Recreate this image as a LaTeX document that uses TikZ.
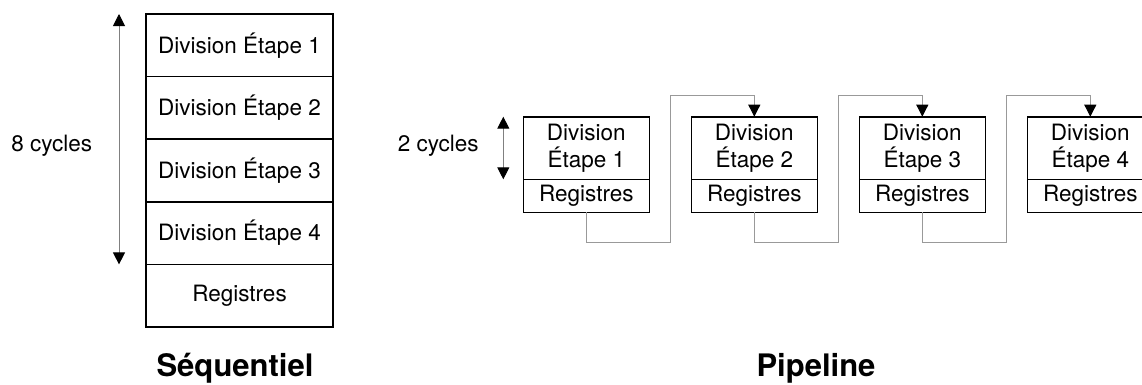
\documentclass[tikz,border=0pt]{standalone}
\usepackage{fontspec}
\setmainfont{TeX Gyre Heros}
\usetikzlibrary{arrows.meta}
\begin{document}
\begin{tikzpicture}[x=1pt,y=-1pt,
  >={Triangle[width=12pt,length=12pt,color=black]},
  txt/.style={font=\fontsize{22.5}{27.3}\selectfont},
  box/.style={draw,line width=1.6pt,inner sep=0pt,outer sep=0pt,txt},
  cell/.style={box,minimum width=187pt,minimum height=62.6pt},
  stage/.style={box,minimum width=126pt,minimum height=62.6pt,align=center},
  reg/.style={box,minimum width=126pt,minimum height=33pt},
  span/.style={draw=gray,line width=1pt,<->},
  conn/.style={draw=gray!80,line width=0.9pt,->},
  title/.style={font=\fontsize{31}{36}\selectfont\bfseries}
]
\clip (0,0) rectangle (1142,384);

% Sequential divider: four stages stacked on the register
\foreach \i/\y in {1/45.3,2/107.9,3/170.5,4/233.1}
  \node[cell] (e\i) at (239.5,\y) {Division Étape \i};
\node[cell] (reg) at (239.5,295.7) {Registres};
\draw[span] ([xshift=-27pt]e1.north west) -- ([xshift=-27pt]e4.south west);
\node[txt,anchor=base] (n8) at (51.7,151.7) {8 cycles};
\node[title,anchor=base] (tseq) at (235,376) {Séquentiel};

% Pipelined divider: one register after each stage
\foreach \i in {1,...,4} {
  \node[stage] (p\i) at ({586.3+168*(\i-1)},148) {Division\\Étape \i};
  \node[reg] (r\i) at ({586.3+168*(\i-1)},195.8) {Registres};
}
\draw[span] ([xshift=-20pt]p1.north west) -- ([xshift=-20pt]p1.south west);
\node[txt,anchor=base] (n2) at (438.3,151) {2 cycles};

\foreach \i/\j in {1/2,2/3,3/4} {
  \coordinate (lo\i) at ({670+168*(\i-1)},242.7);
  \coordinate (hi\i) at ({670+168*(\i-1)},95.7);
  \draw[conn] (r\i.south) |- (lo\i) -- (hi\i) -| (p\j.north);
}
\node[title,anchor=base] (tpip) at (816,376) {Pipeline};
\end{tikzpicture}
\end{document}
